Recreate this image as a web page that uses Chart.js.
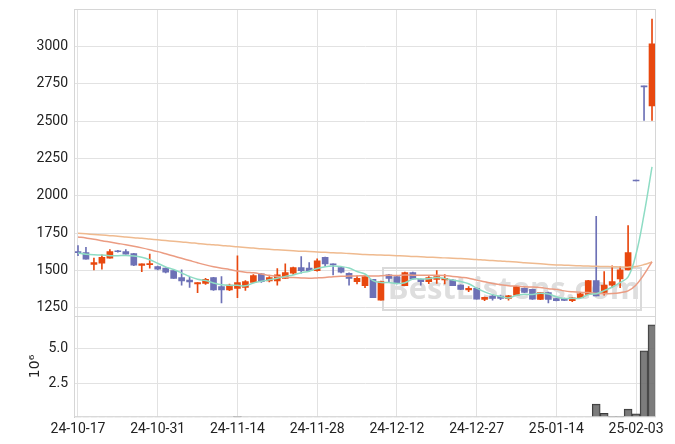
<!DOCTYPE html>
<html lang="ko">
<head>
<meta charset="UTF-8">
<title>주가 차트</title>
<style>
  html, body { margin: 0; padding: 0; background: #fff; }
  #wrap { width: 675px; height: 444px; position: relative; }
</style>
</head>
<body>
<div id="wrap"><canvas id="stockChart"></canvas></div>

<script src="https://cdn.jsdelivr.net/npm/chart.js"></script>
<script>
// trading days, 24-10-17 .. 25-02-05
const dates = [
  '24-10-17','24-10-18','24-10-21','24-10-22','24-10-23','24-10-24','24-10-25','24-10-28','24-10-29','24-10-30','24-10-31',
  '24-11-01','24-11-04','24-11-05','24-11-06','24-11-07','24-11-08','24-11-11','24-11-12','24-11-13','24-11-14',
  '24-11-15','24-11-18','24-11-19','24-11-20','24-11-21','24-11-22','24-11-25','24-11-26','24-11-27','24-11-28','24-11-29',
  '24-12-02','24-12-03','24-12-04','24-12-05','24-12-06','24-12-09','24-12-10','24-12-11','24-12-12',
  '24-12-13','24-12-16','24-12-17','24-12-18','24-12-19','24-12-20','24-12-23','24-12-24','24-12-26','24-12-27','24-12-30',
  '25-01-02','25-01-03','25-01-06','25-01-07','25-01-08','25-01-09','25-01-10','25-01-13','25-01-14',
  '25-01-15','25-01-16','25-01-17','25-01-20','25-01-21','25-01-22','25-01-23','25-01-24','25-01-31',
  '25-02-03','25-02-04','25-02-05'
];
const opens = [
  1625,1621,1542,1549,1583,1630,1628,1613,1534,1540,1527,
  1516,1500,1453,1437,1410,1414,1453,1392,1370,1381,
  1387,1421,1478,1431,1431,1448,1482,1520,1516,1500,1588,
  1543,1520,1482,1426,1399,1441,1302,1471,1460,
  1399,1487,1441,1426,1441,1437,1437,1403,1370,1381,1307,
  1329,1329,1313,1336,1381,1374,1307,1352,1313,
  1313,1298,1318,1340,1433,1354,1403,1444,1505,
  2106,2736,2602
];
const highs = [
  1667,1655,1583,1606,1640,1636,1640,1615,1545,1610,1530,
  1518,1505,1505,1455,1420,1448,1455,1460,1410,1599,
  1433,1473,1482,1460,1514,1545,1524,1594,1554,1579,1590,
  1545,1524,1484,1464,1462,1441,1430,1475,1466,
  1490,1490,1444,1460,1500,1473,1441,1405,1392,1385,1322,
  1340,1336,1334,1394,1385,1376,1354,1356,1316,
  1316,1320,1347,1435,1864,1493,1532,1527,1802,
  2106,2736,3184
];
const lows = [
  1600,1576,1505,1509,1583,1624,1610,1532,1493,1516,1505,
  1485,1448,1403,1387,1352,1408,1367,1284,1365,1318,
  1367,1421,1420,1424,1403,1446,1475,1482,1496,1496,1527,
  1471,1485,1403,1410,1385,1318,1302,1426,1410,
  1399,1442,1403,1412,1414,1410,1399,1372,1358,1309,1298,
  1302,1305,1302,1334,1352,1307,1305,1284,1296,
  1298,1291,1316,1338,1331,1336,1385,1385,1505,
  2100,2506,2506
];
const closes = [
  1620,1576,1554,1588,1628,1626,1610,1536,1545,1545,1509,
  1489,1448,1431,1424,1419,1441,1370,1370,1403,1419,
  1426,1466,1426,1453,1471,1487,1520,1500,1500,1565,1545,
  1538,1489,1448,1448,1460,1318,1426,1448,1414,
  1487,1444,1426,1453,1460,1448,1399,1374,1381,1309,1320,
  1313,1313,1331,1392,1354,1309,1352,1307,1298,
  1300,1318,1345,1433,1331,1403,1426,1505,1621,
  2100,2730,3018
];
// volume, millions of shares
const volumes = [
  0.01,0.01,0.01,0.01,0.01,0.01,0.01,0.01,0.01,0.01,0.01,
  0.01,0.01,0.01,0.01,0.01,0.01,0.01,0.01,0.01,0.07,
  0.01,0.01,0.01,0.01,0.01,0.01,0.01,0.01,0.01,0.01,0.01,
  0.01,0.01,0.01,0.01,0.01,0.01,0.01,0.01,0.01,
  0.01,0.01,0.01,0.01,0.01,0.01,0.01,0.01,0.01,0.01,0.01,
  0.01,0.01,0.01,0.01,0.01,0.01,0.01,0.01,0.01,
  0.01,0.01,0.01,0.01,0.96,0.29,0.07,0.07,0.59,
  0.25,4.85,6.76
];
const ma5 = [
  1617,1610,1606,1604,1600,1600,1601,1598,1589,1572,1549,
  1525,1507,1484,1460,1442,1433,1417,1405,1401,1401,
  1398,1417,1428,1438,1448,1461,1471,1486,1496,1514,1526,
  1530,1527,1517,1494,1477,1433,1420,1420,1413,
  1419,1444,1444,1445,1454,1446,1437,1427,1412,1382,1357,
  1339,1327,1317,1334,1341,1340,1348,1343,1324,
  1313,1315,1314,1339,1345,1366,1388,1420,1457,
  1611,1876,2195
];
const ma20 = [
  1725,1718,1710,1700,1691,1682,1673,1663,1652,1640,1627,
  1612,1597,1582,1567,1552,1538,1526,1516,1507,1497,
  1489,1485,1477,1468,1460,1454,1453,1451,1449,1451,1454,
  1459,1462,1463,1464,1465,1463,1465,1468,1467,
  1471,1469,1469,1469,1469,1467,1461,1455,1449,1436,1425,
  1413,1405,1399,1396,1391,1390,1386,1379,1374,
  1364,1358,1354,1353,1346,1344,1346,1352,1364,
  1404,1474,1559
];
const ma60 = [
  1750,1746,1742,1738,1734,1730,1725,1720,1716,1711,1706,
  1701,1696,1691,1687,1682,1677,1673,1668,1664,1659,
  1655,1651,1646,1642,1639,1636,1633,1630,1628,1625,1622,
  1619,1617,1614,1611,1608,1606,1604,1602,1600,
  1598,1595,1593,1590,1588,1585,1583,1580,1577,1574,1570,
  1567,1564,1560,1557,1553,1549,1545,1541,1538,
  1536,1534,1532,1530,1529,1527,1526,1524,1523,
  1527,1540,1558
];
const priceTicks = [1250, 1500, 1750, 2000, 2250, 2500, 2750, 3000];
const volTicks = [2.5, 5.0];

const upColor = '#e8480f';
const downColor = '#6d71b6';
const candleColors = closes.map((c, i) => c >= opens[i] ? upColor : downColor);

// chart border + watermark
const framePlugin = {
  id: 'frame',
  beforeDatasetsDraw(chart) {
    const {ctx, chartArea: a} = chart;
    ctx.save();
    // watermark
    const bx = a.left + 309, by = a.top + 259, bw = 258, bh = 42;
    ctx.strokeStyle = '#dadada';
    ctx.lineWidth = 2;
    ctx.strokeRect(bx, by, bw, bh);
    ctx.fillStyle = '#dedede';
    ctx.font = 'bold 31px "Open Sans", sans-serif';
    ctx.textAlign = 'center';
    ctx.textBaseline = 'middle';
    ctx.fillText('BestListens.com', bx + bw / 2 + 2, by + bh / 2 + 1);
    ctx.restore();
  },
  afterDraw(chart) {
    const {ctx, chartArea: a, scales} = chart;
    ctx.save();
    ctx.strokeStyle = '#d6d6d6';
    ctx.lineWidth = 1;
    ctx.strokeRect(a.left + 0.5, a.top + 0.5, a.right - a.left - 1, a.bottom - a.top - 1);
    const sep = Math.round(scales.y.bottom) + 0.5;
    ctx.beginPath();
    ctx.moveTo(a.left, sep);
    ctx.lineTo(a.right, sep);
    ctx.stroke();
    ctx.restore();
  }
};

// fixed width, no label overhang padding
const fitLeftAxis = s => {
  s.width = 74;
  s.paddingTop = 0;
  s.paddingBottom = 0;
};

const ctx = document.getElementById('stockChart').getContext('2d');
const stockChart = new Chart(ctx, {
  type: 'bar',
  data: {
    labels: dates,
    datasets: [
      {
        type: 'line', label: 'MA5', data: ma5, yAxisID: 'y',
        borderColor: '#8edcc4', borderWidth: 1.5, pointRadius: 0, tension: 0.4, order: 0
      },
      {
        type: 'line', label: 'MA20', data: ma20, yAxisID: 'y',
        borderColor: '#eb9c82', borderWidth: 1.5, pointRadius: 0, tension: 0.4, order: 0
      },
      {
        type: 'line', label: 'MA60', data: ma60, yAxisID: 'y',
        borderColor: '#efba8f', borderWidth: 1.5, pointRadius: 0, tension: 0.4, order: 0
      },
      {
        label: 'body', data: opens.map((o, i) => [o, closes[i]]), yAxisID: 'y',
        backgroundColor: candleColors, barThickness: 6, minBarLength: 1,
        grouped: false, order: 1
      },
      {
        label: 'wick', data: lows.map((l, i) => [l, highs[i]]), yAxisID: 'y',
        backgroundColor: candleColors, barThickness: 1, minBarLength: 1,
        grouped: false, order: 2
      },
      {
        label: 'volume', data: volumes, yAxisID: 'yv',
        backgroundColor: 'rgba(110,110,110,0.9)', borderColor: '#3a3a3a', borderWidth: 1,
        barPercentage: 1, categoryPercentage: 1, grouped: false, order: 3
      }
    ]
  },
  options: {
    responsive: true,
    maintainAspectRatio: false,
    animation: false,
    layout: { padding: { top: 9, right: 19, bottom: 2, left: 0 } },
    plugins: { legend: { display: false }, tooltip: { enabled: false } },
    scales: {
      x: {
        offset: true,
        grid: { offset: false, color: '#e2e2e2', drawTicks: false },
        border: { display: false },
        afterBuildTicks: s => { s.ticks = s.ticks.filter(t => t.value % 10 === 0); },
        ticks: {
          autoSkip: false, maxRotation: 0, padding: 4, color: '#222',
          font: { family: 'Roboto', size: 14 },
          callback: v => dates[v]
        }
      },
      yv: {
        position: 'left', stack: 'panes', stackWeight: 101,
        min: 0, max: 7.43,
        afterBuildTicks: s => { s.ticks = volTicks.map(v => ({ value: v })); },
        afterFit: fitLeftAxis,
        grid: { color: '#e2e2e2', drawTicks: false },
        border: { color: '#d0d0d0' },
        ticks: {
          padding: 6, color: '#222', font: { family: 'Roboto', size: 14 },
          callback: v => v.toFixed(1)
        },
        title: {
          display: true, text: '10⁶', color: '#222',
          font: { family: 'DejaVu Sans', size: 14 }, padding: { top: 27, bottom: 0 }
        }
      },
      y: {
        position: 'left', stack: 'panes', stackWeight: 305,
        min: 1198, max: 3252,
        afterBuildTicks: s => { s.ticks = priceTicks.map(v => ({ value: v })); },
        afterFit: fitLeftAxis,
        grid: { color: '#e2e2e2', drawTicks: false },
        border: { color: '#d0d0d0' },
        ticks: {
          padding: 6, color: '#222', font: { family: 'Roboto', size: 14 },
          callback: v => String(v)
        }
      }
    }
  },
  plugins: [framePlugin]
});
</script>
</body>
</html>
